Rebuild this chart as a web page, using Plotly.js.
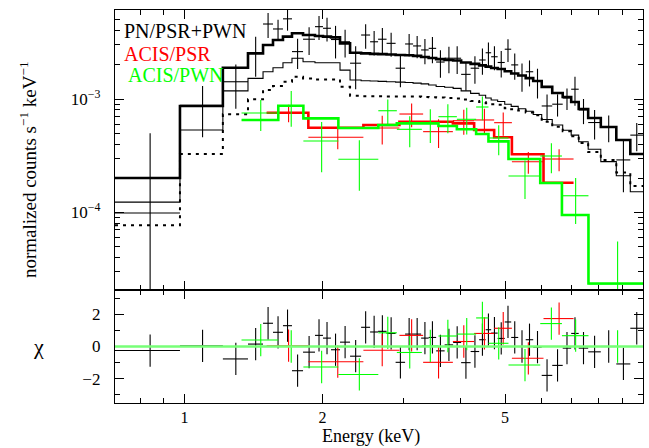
<!DOCTYPE html>
<html><head><meta charset="utf-8">
<script src="https://cdn.plot.ly/plotly-3.0.1.min.js"></script>
<style>html,body{margin:0;padding:0;background:#fff}#chart{width:649px;height:448px}</style>
</head><body><div id="chart"></div>
<script>
// ---- values are in units of 1e-3 counts s^-1 keV^-1 ----
const UNIT = 1e-3;

// EPIC-PN spectrum (bin edges in keV)
const pnEdges = [0.705, 0.977, 1.212, 1.375, 1.483, 1.559, 1.639, 1.715, 1.813, 1.925, 2.004, 2.086, 2.183, 2.296, 2.427, 2.539, 2.643, 2.758, 2.886, 3.027, 3.151, 3.281, 3.407, 3.538, 3.692, 3.853, 4.011, 4.207, 4.391, 4.537, 4.664, 4.819, 4.993, 5.158, 5.343, 5.548, 5.761, 6.012, 6.339, 6.681, 6.972, 7.240, 7.593, 8.09, 8.745, 9.382, 10.0];
const pnData = [0.0986, 0.88, 1.42, 2.56, 4.59, 4.15, 5.1, 2.62, 3.37, 4.35, 4.21, 3.35, 3.20, 2.07, 3.67, 3.20, 3.37, 3.10, 1.87, 3.06, 2.94, 2.71, 2.80, 2.12, 2.29, 2.29, 1.65, 1.87, 2.21, 2.56, 2.36, 2.10, 2.75, 2.00, 1.61, 1.74, 1.43, 0.868, 0.90, 1.02, 1.22, 0.80, 0.62, 0.566, 0.29, 0.48];
const pnErr = [0.40, 0.42, 0.60, 0.99, 1.14, 0.865, 1.09, 0.78, 0.925, 1.04, 1.0, 1.07, 0.88, 0.85, 0.9, 0.785, 0.865, 0.74, 0.60, 0.69, 0.65, 0.68, 0.73, 0.58, 0.6, 0.63, 0.47, 0.51, 0.575, 0.6, 0.565, 0.55, 0.625, 0.52, 0.45, 0.45, 0.42, 0.23, 0.2, 0.22, 0.35, 0.2, 0.18, 0.15, 0.14, 0.135];
const pnModelTotal = [0.201, 0.868, 1.89, 2.53, 3.00, 3.32, 3.55, 3.80, 3.67, 3.60, 3.55, 3.50, 3.10, 2.56, 2.53, 2.50, 2.49, 2.47, 2.445, 2.43, 2.40, 2.35, 2.30, 2.25, 2.21, 2.19, 2.10, 2.04, 1.98, 1.93, 1.88, 1.84, 1.76, 1.68, 1.61, 1.53, 1.44, 1.28, 1.13, 1.04, 0.94, 0.816, 0.68, 0.566, 0.435, 0.327];
const pnModelThin = [0.123, 0.532, 1.18, 1.52, 1.74, 1.89, 2.09, 2.29, 2.13, 2.09, 2.09, 2.09, 1.80, 1.47, 1.45, 1.44, 1.43, 1.42, 1.41, 1.40, 1.38, 1.36, 1.33, 1.29, 1.27, 1.24, 1.18, 1.12, 1.08, 1.02, 0.98, 0.95, 0.90, 0.86, 0.82, 0.78, 0.73, 0.66, 0.59, 0.53, 0.48, 0.42, 0.36, 0.28, 0.21, 0.152];
const pnModelDotted = [0.077, 0.327, 0.733, 0.994, 1.20, 1.30, 1.42, 1.57, 1.52, 1.49, 1.49, 1.49, 1.28, 1.07, 1.06, 1.06, 1.055, 1.05, 1.05, 1.05, 1.05, 1.04, 1.035, 1.03, 1.02, 1.01, 0.99, 0.96, 0.94, 0.916, 0.90, 0.89, 0.83, 0.81, 0.79, 0.76, 0.72, 0.63, 0.57, 0.52, 0.47, 0.41, 0.34, 0.29, 0.225, 0.171];
const pnChi = [-0.25, 0.04, -0.77, 0.15, 1.44, 0.88, 1.29, -1.5, -0.35, 0.69, 0.52, -0.2, 0.27, -0.6, 1.19, 0.9, 0.94, 0.81, -0.98, 0.77, 0.77, 0.52, 0.56, -0.27, 0.1, 0.25, -1.0, -0.31, 0.42, 1.04, 0.83, 0.5, 1.52, 0.56, 0.0, 0.42, -0.04, -1.79, -1.17, -0.1, 0.81, -0.1, -0.33, 0.0, -1.08, 1.13];

// ACIS / PSR
const psrEdges = [1.510, 1.862, 2.455, 2.942, 3.314, 3.848, 4.282, 4.735, 5.176, 6.067, 7.055];
const psrData = [0.757, 0.459, 0.555, 0.737, 0.515, 0.643, 0.653, 0.618, 0.2797, 0.2954];
const psrErr = [0.133, 0.098, 0.158, 0.175, 0.146, 0.16, 0.166, 0.144, 0.061, 0.065];
const psrModel = [0.757, 0.558, 0.589, 0.63, 0.63, 0.61, 0.532, 0.459, 0.325, 0.1825];
const psrChi = [0.05, -0.94, -0.23, 0.69, -0.98, 0.31, 0.81, 1.13, -0.73, 1.73];

// ACIS / PWN
const pwnEdges = [1.331, 1.601, 1.816, 2.165, 2.646, 2.904, 3.293, 3.579, 3.926, 4.325, 4.601, 5.088, 5.968, 6.655, 7.604, 10.0];
const pwnData = [0.752, 0.873, 0.426, 0.2936, 0.788, 0.54, 0.61, 0.698, 0.662, 0.85, 0.453, 0.209, 0.314, 0.140, 0.0233];
const pwnErr = [0.23, 0.305, 0.2, 0.139, 0.2, 0.165, 0.2, 0.2, 0.176, 0.2, 0.134, 0.078, 0.0925, 0.061, 0.032];
const pwnModel = [0.653, 0.873, 0.675, 0.555, 0.589, 0.61, 0.61, 0.578, 0.54, 0.491, 0.423, 0.2954, 0.1814, 0.0947, 0.02353];
const pwnChi = [0.4, 0.0, -1.27, -1.73, 0.85, -0.37, 0.04, 0.65, 0.77, 1.77, 0.2, -1.15, 1.42, 0.67, 0.0];

// axes ticks
const xTickVals = [1, 2, 5];
const xTickText = ['1', '2', '5'];
const xMinorVals = [0.8, 0.9, 3, 4, 6, 7, 8, 9];
const yTickVals = [1e-4, 1e-3];
const yTickText = ['10<sup>−4</sup>', '10<sup>−3</sup>'];
const yMinorVals = [3e-5, 4e-5, 5e-5, 6e-5, 7e-5, 8e-5, 9e-5, 2e-4, 3e-4, 4e-4, 5e-4, 6e-4, 7e-4, 8e-4, 9e-4, 2e-3, 3e-3, 4e-3, 5e-3, 6e-3];
const chiTickVals = [-2, 0, 2];
const chiTickText = ['−2', '0', '2'];
const chiMinorVals = [-3, -1, 1, 3];

const legendLabels = ['PN/PSR+PWN', 'ACIS/PSR', 'ACIS/PWN'];
const BLACK = '#000000', RED = '#ff0000', GREEN = '#00ff00';
const FONT = 'Liberation Serif, Times New Roman, serif';

function mids(e) { return e.slice(0, -1).map((v, i) => (v + e[i + 1]) / 2); }
function halfs(e) { return e.slice(0, -1).map((v, i) => (e[i + 1] - v) / 2); }
function scaled(a) { return a.map(v => v * UNIT); }
function stepVals(a) { const s = scaled(a); return s.concat([s[s.length - 1]]); }

function dataTrace(edges, vals, errs, color, w) {
  return {
    type: 'scatter', mode: 'markers', x: mids(edges), y: scaled(vals),
    xaxis: 'x', yaxis: 'y', marker: { size: 0.1, color: color },
    error_x: { type: 'data', array: halfs(edges), color: color, thickness: w, width: 0 },
    error_y: { type: 'data', array: scaled(errs), color: color, thickness: w, width: 0 },
    hoverinfo: 'skip', showlegend: false
  };
}
function modelTrace(edges, vals, color, w, dash) {
  return {
    type: 'scatter', mode: 'lines', x: edges, y: stepVals(vals), xaxis: 'x', yaxis: 'y',
    line: { shape: 'hv', color: color, width: w, dash: dash || 'solid' },
    hoverinfo: 'skip', showlegend: false
  };
}
function chiTrace(edges, chis, color, w) {
  return {
    type: 'scatter', mode: 'markers', x: mids(edges), y: chis,
    xaxis: 'x2', yaxis: 'y2', marker: { size: 0.1, color: color },
    error_x: { type: 'data', array: halfs(edges), color: color, thickness: w, width: 0 },
    error_y: { type: 'constant', value: 1, color: color, thickness: w, width: 0 },
    hoverinfo: 'skip', showlegend: false
  };
}

const traces = [
  dataTrace(pnEdges, pnData, pnErr, BLACK, 1.1),
  modelTrace(pnEdges, pnModelThin, BLACK, 1.1),
  modelTrace(pnEdges, pnModelDotted, BLACK, 2, '3px,5px'),
  modelTrace(pnEdges, pnModelTotal, BLACK, 2.6),
  dataTrace(psrEdges, psrData, psrErr, RED, 1.1),
  modelTrace(psrEdges, psrModel, RED, 2.6),
  dataTrace(pwnEdges, pwnData, pwnErr, GREEN, 1.1),
  modelTrace(pwnEdges, pwnModel, GREEN, 2.6),
  chiTrace(pnEdges, pnChi, BLACK, 1.1),
  chiTrace(psrEdges, psrChi, RED, 1.1),
  chiTrace(pwnEdges, pwnChi, GREEN, 1.1)
];

const axCommon = {
  showline: true, linecolor: '#000', linewidth: 1.2, mirror: 'ticks',
  ticks: 'inside', ticklen: 9, tickwidth: 1, tickcolor: '#000',
  showgrid: false, zeroline: false, tickfont: { family: FONT, size: 17, color: '#000' }
};

const layout = {
  width: 649, height: 448,
  margin: { l: 115, r: 6, t: 10, b: 45 },
  paper_bgcolor: '#fff', plot_bgcolor: '#fff',
  showlegend: false,
  xaxis: Object.assign({}, axCommon, {
    type: 'log', range: [Math.log10(0.705), Math.log10(10.0)], anchor: 'y',
    tickmode: 'array', tickvals: xTickVals, showticklabels: false,
    minor: { tickmode: 'array', tickvals: xMinorVals, ticks: 'inside', ticklen: 5, tickcolor: '#000', showgrid: false }
  }),
  xaxis2: Object.assign({}, axCommon, {
    type: 'log', range: [Math.log10(0.705), Math.log10(10.0)], anchor: 'y2', matches: 'x',
    tickmode: 'array', tickvals: xTickVals, ticktext: xTickText, ticklabelstandoff: 0,
    tickfont: { family: FONT, size: 16, color: '#000' },
    minor: { tickmode: 'array', tickvals: xMinorVals, ticks: 'inside', ticklen: 5, tickcolor: '#000', showgrid: false }
  }),
  yaxis: Object.assign({}, axCommon, {
    type: 'log', domain: [0.2875, 1], range: [-4.6858, -2.2145], anchor: 'x',
    tickmode: 'array', tickvals: yTickVals, ticktext: yTickText, ticklabelstandoff: 10,
    minor: { tickmode: 'array', tickvals: yMinorVals, ticks: 'inside', ticklen: 5, tickcolor: '#000', showgrid: false }
  }),
  yaxis2: Object.assign({}, axCommon, {
    domain: [0, 0.2875], range: [-3.5, 3.5], anchor: 'x2',
    tickmode: 'array', tickvals: chiTickVals, ticktext: chiTickText, ticklabelstandoff: 10,
    minor: { tickmode: 'array', tickvals: chiMinorVals, ticks: 'inside', ticklen: 5, tickcolor: '#000', showgrid: false }
  }),
  shapes: [
    { type: 'line', xref: 'paper', x0: 0, x1: 1, yref: 'y2', y0: 0, y1: 0,
      line: { color: '#77ff77', width: 2.5 }, layer: 'above' }
  ],
  annotations: [
    { text: legendLabels[0], xref: 'paper', yref: 'paper', x: 0.013, y: 0.947, xanchor: 'left', yanchor: 'middle',
      showarrow: false, font: { family: FONT, size: 20, color: BLACK } },
    { text: legendLabels[1], xref: 'paper', yref: 'paper', x: 0.013, y: 0.889, xanchor: 'left', yanchor: 'middle',
      showarrow: false, font: { family: FONT, size: 20, color: RED } },
    { text: legendLabels[2], xref: 'paper', yref: 'paper', x: 0.020, y: 0.834, xanchor: 'left', yanchor: 'middle',
      showarrow: false, font: { family: FONT, size: 20, color: GREEN } },
    { text: 'normalized counts s<sup>−1</sup> keV<sup>−1</sup>', xref: 'paper', yref: 'paper',
      x: -0.165, y: 0.595, xanchor: 'center', yanchor: 'middle', textangle: -90,
      showarrow: false, font: { family: FONT, size: 19, color: '#000' } },
    { text: 'χ', xref: 'paper', yref: 'paper', x: -0.145, y: 0.143, xanchor: 'center', yanchor: 'middle',
      showarrow: false, font: { family: FONT, size: 22, color: '#000' } },
    { text: 'Energy (keV)', xref: 'paper', yref: 'paper', x: 0.485, y: 0, yshift: -46, xanchor: 'center', yanchor: 'bottom',
      showarrow: false, font: { family: FONT, size: 18, color: '#000' } }
  ]
};

Plotly.newPlot('chart', traces, layout, { staticPlot: true, displayModeBar: false });
</script>
</body></html>
